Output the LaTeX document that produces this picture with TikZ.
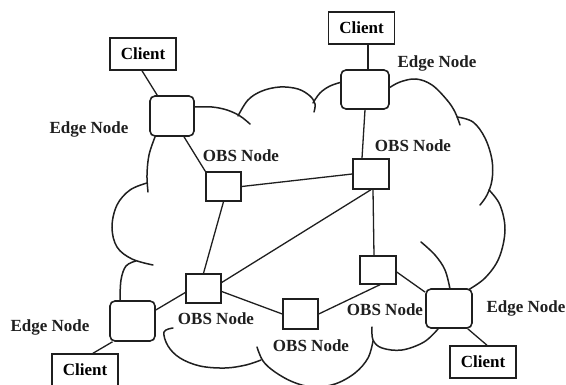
\documentclass[tikz,border=0pt]{standalone}
\usepackage{fontspec}
\setmainfont{Liberation Serif}
\begin{document}
\begin{tikzpicture}[x=1pt,y=-1pt,
  ink/.style={draw=black!88},
  link/.style={ink, line width=1.3pt},
  cloudarc/.style={ink, line width=1.5pt, line cap=round},
  clientbox/.style={ink, fill=white, line width=1.5pt, minimum width=66pt, minimum height=32pt, inner sep=0pt,
    font=\bfseries\fontsize{17}{17}\selectfont},
  edgebox/.style={ink, fill=white, line width=1.6pt, rounded corners=5pt, inner sep=0pt},
  obsbox/.style={ink, fill=white, line width=1.4pt, inner sep=0pt},
  tag/.style={font=\bfseries\fontsize{17}{17}\selectfont, text=black!88, inner sep=0pt}]

\useasboundingbox (0,0) rectangle (566,385);
\fill[white] (0,0) rectangle (566,385);

% cloud outline, bump by bump
\draw[cloudarc] plot[smooth, tension=0.6] coordinates {(195,107) (212,107) (227,110) (240,116) (250,124)};
\draw[cloudarc] plot[smooth, tension=0.6] coordinates {(238,116) (248,100) (262,91) (280,87) (298,89) (310,96) (315,104) (314,112)};
\draw[cloudarc] plot[smooth, tension=0.6] coordinates {(313,103) (320,93) (330,86) (342,82)};
\draw[cloudarc] plot[smooth, tension=0.6] coordinates {(389,88) (400,82) (416,79) (432,85) (447,100) (455,112) (460,125)};
\draw[cloudarc] plot[smooth, tension=0.6] coordinates {(457,117) (473,122) (485,138) (492,160) (492,180) (487,195) (480,205)};
\draw[cloudarc] plot[smooth, tension=0.6] coordinates {(489,190) (500,205) (505,230) (499,258) (485,278) (468,290)};
\draw[cloudarc] plot[smooth, tension=0.6] coordinates {(421,242) (435,255) (445,270) (450,289)};
\draw[cloudarc] plot[smooth, tension=0.6] coordinates {(438,329) (424,342) (402,350) (382,348) (373,340) (372,327)};
\draw[cloudarc] plot[smooth, tension=0.6] coordinates {(373,341) (368,358) (355,373) (335,384) (313,387) (293,382) (275,372) (263,361) (257,347)};
\draw[cloudarc] plot[smooth, tension=0.6] coordinates {(173,328) (164,332) (168,346) (180,358) (200,366) (225,368) (246,365) (261,360)};
\draw[cloudarc] plot[smooth, tension=0.6] coordinates {(155,137) (149,155) (147,175) (148,192)};
\draw[cloudarc] plot[smooth, tension=0.6] coordinates {(147,183) (130,190) (117,205) (112,227) (117,247) (132,259) (153,265)};
\draw[cloudarc] plot[smooth, tension=0.6] coordinates {(136,261) (126,266) (121,280) (120,301)};

% clients
\node[clientbox] (cTL) at (143,54) {Client};
\node[clientbox] (cTR) at (361.5,28) {Client};
\node[clientbox] (cBL) at (85,370) {Client};
\node[clientbox] (cBR) at (483,362) {Client};

% edge nodes
\node[edgebox, minimum width=44pt, minimum height=40pt] (eTL) at (172,116) {};
\node[edgebox, minimum width=48pt, minimum height=39pt] (eTR) at (365,89.5) {};
\node[edgebox, minimum width=45pt, minimum height=40pt] (eBL) at (132.5,321) {};
\node[edgebox, minimum width=46pt, minimum height=39pt] (eBR) at (449,308.5) {};

% OBS nodes
\node[obsbox, minimum width=35pt, minimum height=29pt] (o1) at (223.5,186.5) {};
\node[obsbox, minimum width=36pt, minimum height=30pt] (o2) at (371,174) {};
\node[obsbox, minimum width=35pt, minimum height=29pt] (o3) at (203.5,288.5) {};
\node[obsbox, minimum width=35pt, minimum height=30pt] (o4) at (300.5,314) {};
\node[obsbox, minimum width=36pt, minimum height=28pt] (o5) at (378,270) {};

% links
\draw[link] ([xshift=-1pt]cTL.south) -- ([xshift=8pt]eTL.north west);
\draw[link] ([xshift=12pt]eTL.south) -- (o1.north west);
\draw[link] (o1.east) -- (o2.west);
\draw[link] (o1.south) -- (o3.north);
\draw[link] ([yshift=6pt]o3.east) -- (o2.south);
\draw[link] ([xshift=2pt]o2.south) -- ([xshift=-4pt]o5.north);
\draw[link] ([yshift=-3pt]o3.east) -- (o4.west);
\draw[link] (o4.east) -- ([xshift=2pt]o5.south);
\draw[link] ([yshift=-2pt]o5.east) -- ([yshift=-4pt]eBR.north west);
\draw[link] ([yshift=-4pt]o3.west) -- ([yshift=11pt]eBL.east);
\draw[link] ([xshift=-20pt]eBL.south) -- ([xshift=8pt]cBL.north);
\draw[link] ([xshift=-5pt]eBR.south east) -- ([xshift=4pt]cBR.north);
\draw[link] ([xshift=6.5pt]cTR.south) -- ([xshift=3pt]eTR.north);
\draw[link] (eTR.south) -- ([xshift=-9pt]o2.north);

% labels
\node[tag] (tEdgeTL) at (89,129) {Edge Node};
\node[tag] (tObs1) at (241,156) {OBS Node};
\node[tag] (tEdgeTR) at (437,63) {Edge Node};
\node[tag] (tObs2) at (413,146) {OBS Node};
\node[tag] (tEdgeBL) at (50,327) {Edge Node};
\node[tag] (tObs3) at (216,319) {OBS Node};
\node[tag] (tObs4) at (311,346) {OBS Node};
\node[tag] (tObs5) at (385,310) {OBS Node};
\node[tag] (tEdgeBR) at (526,308) {Edge Node};
\end{tikzpicture}
\end{document}
